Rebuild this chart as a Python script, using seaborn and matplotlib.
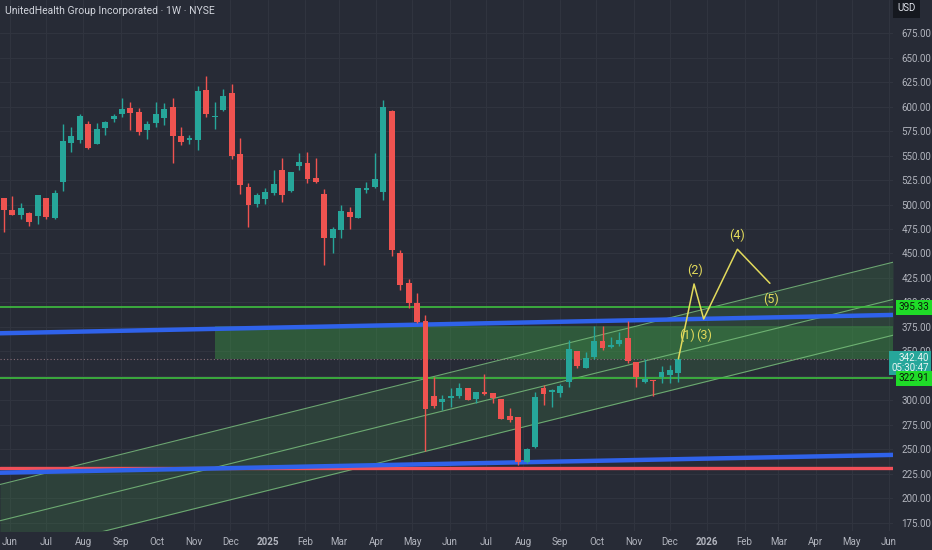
import numpy as np
import pandas as pd
import matplotlib
matplotlib.use("Agg")
import matplotlib.pyplot as plt
import matplotlib.dates as mdates
import matplotlib.transforms as mtransforms
import seaborn as sns

# weekly candles, UNH, starting week of 2024-05-27
start_week = pd.Timestamp("2024-05-27")
opens = [506.9, 494.1, 489.3, 491.3, 488.6, 506.9, 486.3, 523.3, 562.4, 565.5,
         582.1, 562.0, 577.8, 587.2, 592.0, 598.8, 594.7, 575.7, 582.9, 588.3,
         599.5, 569.9, 566.1, 566.1, 616.5, 589.0, 596.7, 613.8, 551.8, 517.9,
         500.2, 505.9, 512.0, 535.5, 513.5, 539.3, 542.0, 527.3, 510.7, 466.1,
         474.0, 492.3, 486.5, 514.5, 517.9, 512.8, 595.1, 450.2, 419.6, 399.2,
         381.1, 304.6, 298.8, 302.9, 304.6, 312.4, 301.2, 308.4, 307.6, 301.5,
         284.2, 283.5, 236.9, 252.9, 312.4, 308.4, 307.3, 319.2, 350.8, 333.2,
         344.1, 360.7, 354.3, 357.3, 363.8, 339.3, 319.2, 320.9, 323.7, 326.0,
         328.4]
highs = [507.0, 508.7, 501.2, 492.6, 509.4, 507.0, 514.8, 581.8, 579.4, 592.0,
         585.5, 583.5, 585.0, 592.3, 608.4, 604.3, 598.2, 585.2, 604.3, 603.3,
         609.0, 578.8, 570.9, 620.9, 631.1, 604.6, 617.5, 622.7, 567.9, 521.6,
         512.0, 516.5, 535.2, 547.4, 533.0, 552.2, 553.3, 547.1, 515.8, 477.3,
         499.5, 497.8, 517.2, 523.3, 552.2, 606.6, 596.0, 453.6, 424.0, 409.4,
         387.2, 324.3, 305.6, 312.4, 318.2, 312.6, 308.5, 326.7, 307.7, 301.6,
         292.1, 283.6, 251.0, 309.0, 315.8, 311.4, 316.8, 361.7, 351.0, 349.8,
         376.0, 376.0, 365.1, 370.2, 381.1, 339.5, 342.3, 321.0, 335.5, 336.2,
         342.4]
lows = [472.2, 489.6, 484.9, 478.4, 480.4, 485.0, 485.3, 514.1, 553.3, 562.4,
        556.6, 561.5, 570.9, 584.5, 589.6, 576.0, 570.9, 566.5, 579.4, 580.8,
        542.7, 560.4, 561.7, 555.6, 589.6, 577.3, 595.4, 546.1, 510.7, 476.7,
        497.8, 500.8, 509.7, 502.9, 513.0, 534.9, 522.2, 522.0, 438.3, 450.2,
        465.5, 474.7, 486.0, 511.4, 517.1, 504.3, 447.8, 412.8, 394.0, 378.8,
        248.8, 292.0, 290.3, 293.7, 302.2, 300.5, 297.1, 305.3, 297.1, 281.0,
        278.4, 234.2, 236.5, 252.0, 295.4, 293.7, 303.9, 313.5, 333.5, 333.0,
        342.0, 351.5, 353.3, 355.9, 338.0, 314.1, 318.2, 304.6, 317.5, 317.5,
        319.2]
closes = [494.4, 489.6, 496.7, 482.1, 509.4, 487.2, 511.4, 565.1, 569.9, 590.3,
          558.0, 577.3, 584.5, 590.3, 597.4, 593.7, 574.3, 581.8, 592.0, 597.8,
          569.6, 563.8, 567.9, 615.8, 592.0, 590.6, 610.4, 549.5, 520.2, 499.5,
          509.7, 512.8, 520.6, 509.4, 532.9, 543.1, 526.0, 522.7, 465.5, 475.0,
          493.4, 487.5, 517.1, 516.5, 525.7, 599.8, 453.6, 417.9, 399.2, 379.8,
          291.0, 294.4, 301.5, 303.9, 313.1, 300.8, 308.4, 306.6, 302.9, 281.4,
          280.1, 236.9, 250.5, 303.9, 306.6, 310.4, 314.8, 352.2, 335.5, 343.7,
          360.4, 353.9, 356.3, 361.7, 340.6, 323.7, 322.0, 319.6, 329.4, 331.1,
          342.4]

# drawings
last_price = 342.40
countdown = "05:30:47"
support_level = 322.91
resist_level = 395.33
red_level = 230.8
upper_blue_dates = ["2024-05-24", "2026-05-31"]
upper_blue_prices = [368.6, 387.2]
lower_blue_dates = ["2024-05-24", "2026-06-01"]
lower_blue_prices = [226.3, 244.4]
channel_dates = ["2025-04-04", "2026-05-31"]
channel_top = [310.7, 439.8]
channel_mid = [273.3, 401.8]
channel_bot = [236.5, 365.3]
zone_start = "2024-11-18"
zone_low, zone_high = 342.4, 376.0
wave_dates = ["2025-12-08", "2025-12-21", "2025-12-29", "2026-01-26", "2026-02-22"]
wave_prices = [342.4, 418.9, 383.2, 454.3, 419.6]
wave_labels = ["(1)", "(3)", "(2)", "(4)", "(5)"]
wave_label_dates = ["2025-12-15", "2025-12-29", "2025-12-22", "2026-01-26", "2026-02-23"]
wave_label_prices = [366.0, 366.0, 432.4, 468.2, 403.6]
price_ticks = list(range(175, 700, 25))

bg = "#272b36"
grid_c = "#30343f"
txt_c = "#b2b5be"
up_c = "#26a69a"
down_c = "#ef5350"

sns.set_theme(style="dark", rc={"axes.facecolor": bg, "figure.facecolor": bg,
                                "axes.grid": False})
plt.rcParams["font.family"] = ["Roboto", "DejaVu Sans"]

fig = plt.figure(figsize=(9.32, 5.5), dpi=100)
ax = fig.add_axes([0, 19 / 550, 893 / 932, 531 / 550])

df = pd.DataFrame({"date": pd.date_range(start_week, periods=len(opens), freq="7D"),
                   "open": opens, "high": highs, "low": lows, "close": closes})
x = mdates.date2num(df["date"])
x0 = mdates.date2num(start_week)
xlim = (x0 - 0.475 * 7, x0 + 105.46 * 7)
ax.set_xlim(xlim)
ax.set_ylim(166.8, 708.7)

# grid
month_ticks = pd.date_range("2024-06-01", "2026-06-01", freq="MS")
for t in mdates.date2num(month_ticks):
    ax.axvline(t, color=grid_c, lw=0.8, zorder=0)
for p in price_ticks:
    ax.axhline(p, color=grid_c, lw=0.8, zorder=0)

# channel
def line_fn(dates, prices):
    xs = mdates.date2num(pd.to_datetime(dates))
    k = (prices[1] - prices[0]) / (xs[1] - xs[0])
    return lambda xx: prices[0] + k * (np.asarray(xx) - xs[0])

xx = np.array(xlim)
top_f = line_fn(channel_dates, channel_top)
mid_f = line_fn(channel_dates, channel_mid)
bot_f = line_fn(channel_dates, channel_bot)
ax.fill_between(xx, bot_f(xx), top_f(xx), color="#4caf50", alpha=0.17, lw=0, zorder=1)
for f in (top_f, mid_f, bot_f):
    ax.plot(xx, f(xx), color="#7cc47f", lw=0.8, alpha=0.8, zorder=1.2)

# green zone
zx = mdates.date2num(pd.Timestamp(zone_start))
ax.fill_between([zx, xlim[1]], zone_low, zone_high, color="#3c9a44", alpha=0.42, lw=0, zorder=1.1)

# horizontal levels
ax.axhline(resist_level, color="#3fbf3f", lw=1.2, zorder=2)
ax.axhline(support_level, color="#3fbf3f", lw=1.2, zorder=2)
ax.axhline(last_price, color="#a07f88", lw=0.8, ls=(0, (1, 2)), alpha=0.8, zorder=2)
ax.axhline(red_level, color="#f0505a", lw=2.4, zorder=2)

# blue trend lines
ub = line_fn(upper_blue_dates, upper_blue_prices)
lb = line_fn(lower_blue_dates, lower_blue_prices)
ax.plot(xx, ub(xx), color="#2f62ea", lw=3.2, zorder=2.2)
ax.plot(xx, lb(xx), color="#2f62ea", lw=3.2, zorder=2.2)

# candles
cols = np.where(df["close"] >= df["open"], up_c, down_c)
body_lo = np.minimum(df["open"], df["close"])
body_h = np.maximum(np.abs(df["close"] - df["open"]), 1.2)
ax.vlines(x, df["low"], df["high"], colors=cols, lw=1, zorder=3)
ax.bar(x, body_h, bottom=body_lo, width=4.9, color=cols, lw=0, zorder=3.1)

# wave path
wave = pd.DataFrame({"date": pd.to_datetime(wave_dates), "price": wave_prices})
wave["x"] = mdates.date2num(wave["date"])
sns.lineplot(data=wave, x="x", y="price", ax=ax, color="#e2da5c", lw=1.1,
             sort=False, zorder=4)
for lab, d, p in zip(wave_labels, wave_label_dates, wave_label_prices):
    ax.text(mdates.date2num(pd.Timestamp(d)), p, lab, color="#e2da5c", fontsize=9,
            ha="center", va="center", zorder=4)

# axes styling
for s in ax.spines.values():
    s.set_visible(False)
ax.set_xlabel("")
ax.set_ylabel("")
ax.set_xticks(mdates.date2num(month_ticks))
ax.set_xticklabels([str(d.year) if d.month == 1 else d.strftime("%b") for d in month_ticks])
for lbl, d in zip(ax.get_xticklabels(), month_ticks):
    if d.month == 1:
        lbl.set_fontweight("bold")
ax.tick_params(axis="x", length=0, pad=4, labelsize=7, labelcolor=txt_c)
ax.yaxis.tick_right()
# labels hidden behind the level boxes on the scale are left out
shown_ticks = [p for p in price_ticks if p != 325]
ax.set_yticks(shown_ticks)
ax.set_yticklabels([f"{p:.2f}" for p in shown_ticks])
ax.tick_params(axis="y", length=0, pad=6, labelsize=7, labelcolor=txt_c)

# price labels on the scale
trans = mtransforms.blended_transform_factory(fig.transFigure, ax.transData)
for lvl in (resist_level, support_level):
    ax.text(929 / 932, lvl, f"{lvl:.2f}", transform=trans, fontsize=7.2, color="#0b1a0b",
            ha="right", va="center", clip_on=False, zorder=6,
            bbox=dict(boxstyle="square,pad=0.25", fc="#1fdc28", ec="none"))
ax.text(929 / 932, last_price - 4, f"{last_price:.2f}\n{countdown}", transform=trans,
        fontsize=7, color="#e8f4f2", ha="right", va="center", linespacing=1.05,
        clip_on=False, zorder=5,
        bbox=dict(boxstyle="square,pad=0.2", fc=up_c, ec="none"))

fig.text(0.9625, 0.985, "USD", fontsize=7, color="#e0e3eb", ha="left", va="center",
         bbox=dict(boxstyle="square,pad=0.45", fc="#15181f", ec="none"))
fig.text(5 / 932, 1 - 11 / 550, "UnitedHealth Group Incorporated · 1W · NYSE",
         fontsize=7.5, color="#d1d4dc", ha="left", va="center")

fig.savefig("out.png", dpi=100, facecolor=bg)
